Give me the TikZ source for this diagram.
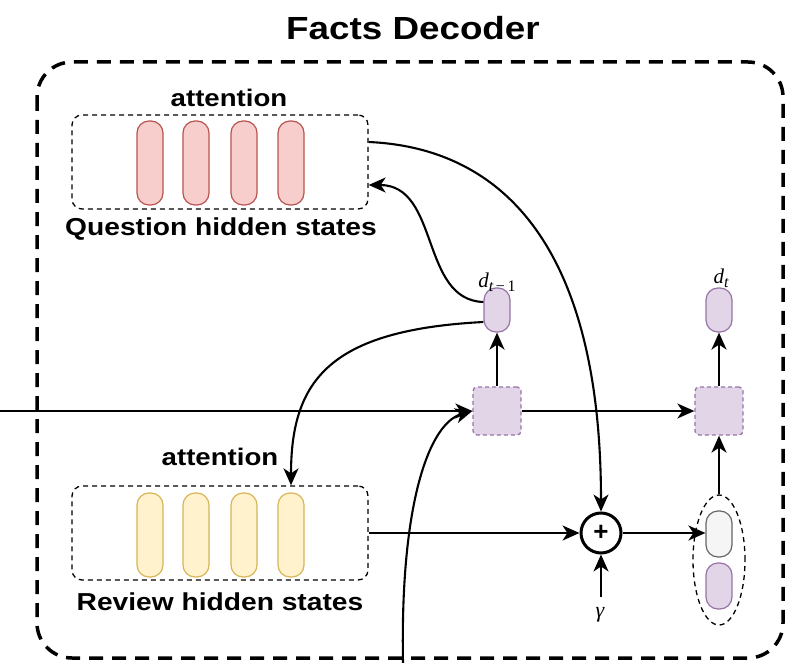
\documentclass[tikz,border=0pt]{standalone}
\usepackage{fontspec}
\setmainfont{Liberation Sans}
\newfontfamily\widesans[FakeStretch=1.15]{Liberation Sans}
\newfontfamily\serifface{Liberation Serif}
\usetikzlibrary{arrows.meta,shapes.geometric}

\definecolor{redfill}{HTML}{F8CECC}
\definecolor{redline}{HTML}{B85450}
\definecolor{yelfill}{HTML}{FFF2CC}
\definecolor{yelline}{HTML}{D6B656}
\definecolor{purfill}{HTML}{E1D5E7}
\definecolor{purline}{HTML}{9673A6}
\definecolor{grayfill}{HTML}{F5F5F5}
\definecolor{grayline}{HTML}{666666}

% italic variable with a large subscript
\newcommand{\varsub}[2]{{\itshape #1}\raisebox{-4pt}{\fontsize{16}{16}\selectfont #2}}

\tikzset{
  pill/.style={draw, rounded corners=12pt, minimum width=26pt, inner sep=0pt, line width=1.2pt},
  redpill/.style={pill, fill=redfill, draw=redline, minimum height=84pt},
  yelpill/.style={pill, fill=yelfill, draw=yelline, minimum height=84pt},
  purpill/.style={pill, fill=purfill, draw=purline, minimum height=44pt},
  graypill/.style={pill, fill=grayfill, draw=grayline, minimum height=46pt},
  statebox/.style={draw, line width=1.3pt, dash pattern=on 5pt off 4pt, rounded corners=10pt,
    minimum width=296pt, minimum height=94pt, inner sep=0pt},
  cellbox/.style={draw=purline, fill=purfill, line width=1.3pt, dash pattern=on 4pt off 3pt,
    rounded corners=4pt, minimum width=48pt, minimum height=48pt, inner sep=0pt},
  arr/.style={line width=2.1pt, -{Stealth[length=17pt, width=15pt, inset=5pt]}},
  lbl/.style={font=\widesans\bfseries\fontsize{24.5}{26}\selectfont, inner sep=0pt},
  attn/.style={font=\widesans\bfseries\fontsize{24}{26}\selectfont, inner sep=0pt},
  dlbl/.style={font=\serifface\fontsize{21}{24}\selectfont, inner sep=0pt},
}

\begin{document}
\begin{tikzpicture}[x=1pt, y=-1pt]
\useasboundingbox (0,0) rectangle (792,663);

% title and outer frame
\node[font=\widesans\bfseries\fontsize{32}{36}\selectfont, inner sep=0pt] (title) at (413,28) {Facts Decoder};
\draw[line width=3.5pt, dash pattern=on 14pt off 9pt, rounded corners=35pt] (37,62) rectangle (783,658);

% question hidden states
\node[statebox] (qbox) at (220,162) {};
\foreach \i/\x in {1/150,2/196,3/244,4/291}
  \node[redpill] (q\i) at (\x,163) {};
\node[attn] (qatt) at (229,98) {attention};
\node[lbl] (qlbl) at (221,229) {Question hidden states};

% review hidden states
\node[statebox] (rbox) at (220,533) {};
\foreach \i/\x in {1/150,2/196,3/244,4/291}
  \node[yelpill] (r\i) at (\x,535) {};
\node[attn] (ratt) at (220,457) {attention};
\node[lbl] (rlbl) at (220,602) {Review hidden states};

% decoder cells and outputs
\node[cellbox] (cell1) at (497,411) {};
\node[cellbox] (cell2) at (719,411) {};
\node[purpill] (dprev) at (497,310) {};
\node[purpill] (dnext) at (719,310) {};
\node[dlbl] (dprevl) at (497,282) {\varsub{d}{\itshape t\upshape\,−\,1}};
\node[dlbl] (dnextl) at (721,278) {\varsub{d}{\itshape t}};

% fusion of the review context
\node[circle, draw, line width=3pt, minimum size=40pt, inner sep=0pt,
      font=\bfseries\fontsize{26}{26}\selectfont] (plus) at (601,533) {+};
\node[dlbl, font=\serifface\itshape\fontsize{22}{24}\selectfont] (gam) at (600,615) {γ};
\node[draw, ellipse, line width=1.3pt, dash pattern=on 5pt off 4pt,
      minimum width=52pt, minimum height=130pt, inner sep=0pt] (ctx) at (719,560) {};
\node[graypill] (gpill) at (719,534) {};
\node[purpill, minimum height=46pt] (ppill) at (719,586) {};

% connectors
\coordinate (lin) at (0,411);
\coordinate (bot) at (403,663);
\coordinate (gtail) at (601,597);
\draw[arr] (lin) -- (cell1.west);
\draw[arr] (cell1.east) -- (cell2.west);
\draw[arr] (cell1.north) -- (dprev.south);
\draw[arr] (cell2.north) -- (dnext.south);
\draw[arr] (bot) .. controls (400,500) and (430,423) .. (cell1.west);
\draw[arr] ([yshift=20pt]qbox.east) .. controls (505,148) and (601,250) .. (plus.north);
\draw[arr] ([yshift=8pt]dprev.west) .. controls (420,300) and (440,185) .. ([yshift=-23pt]qbox.east);
\draw[arr] ([yshift=-12pt]dprev.west) .. controls (330,330) and (291,380) .. (rbox.north -| r4);
\draw[arr] (rbox.east) -- (plus.west);
\draw[arr] (plus.east) -- (plus.east -| gpill.west);
\draw[arr] (gtail) -- (plus.south);
\draw[arr] (ctx.north) -- (cell2.south);
\end{tikzpicture}
\end{document}
